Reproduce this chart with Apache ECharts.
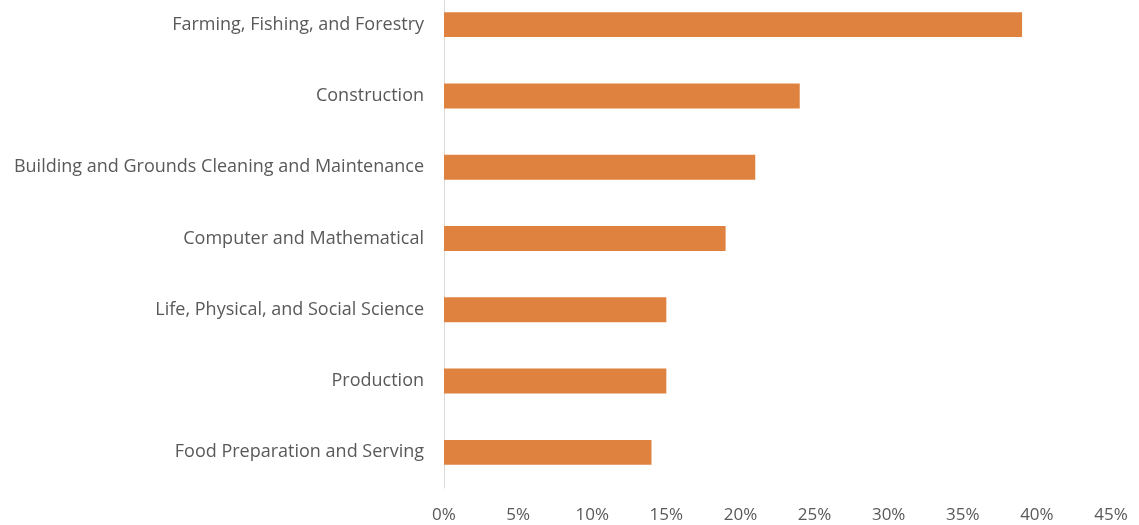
<!DOCTYPE html>
<html><head><meta charset="utf-8">
<script src="https://cdn.jsdelivr.net/npm/echarts@6/dist/echarts.min.js"></script>
<style>html,body{margin:0;padding:0;background:#fff;overflow:hidden;}#c{width:1139px;height:536px;margin-top:-11px;}</style>
</head><body><div id="c"></div>
<script>
const categories = [
  "Farming, Fishing, and Forestry",
  "Construction",
  "Building and Grounds Cleaning and Maintenance",
  "Computer and Mathematical",
  "Life, Physical, and Social Science",
  "Production",
  "Food Preparation and Serving"
];
const values = [39, 24, 21, 19, 15, 15, 14];
const xTicks = [0, 5, 10, 15, 20, 25, 30, 35, 40, 45];

const chart = echarts.init(document.getElementById('c'), null, {renderer: 'canvas'});
chart.setOption({
  animation: false,
  textStyle: {fontFamily: 'Open Sans'},
  grid: {left: 444, right: 28, top: 0, bottom: 37, containLabel: false},
  xAxis: {
    type: 'value', min: xTicks[0], max: xTicks[xTicks.length - 1], interval: 5,
    axisLine: {show: false}, axisTick: {show: false}, splitLine: {show: false},
    axisLabel: {formatter: v => v + '%', color: '#595959', fontSize: 17, fontFamily: 'Open Sans', margin: 19}
  },
  yAxis: {
    type: 'category', data: categories.slice().reverse(),
    axisLine: {show: true, lineStyle: {color: '#d9d9d9', width: 1}},
    axisTick: {show: false},
    axisLabel: {color: '#595959', fontSize: 18, fontFamily: 'Open Sans', margin: 20}
  },
  series: [{
    type: 'bar', data: values.slice().reverse(), barWidth: '35%',
    itemStyle: {color: '#E0823F'}
  }]
});
</script></body></html>
